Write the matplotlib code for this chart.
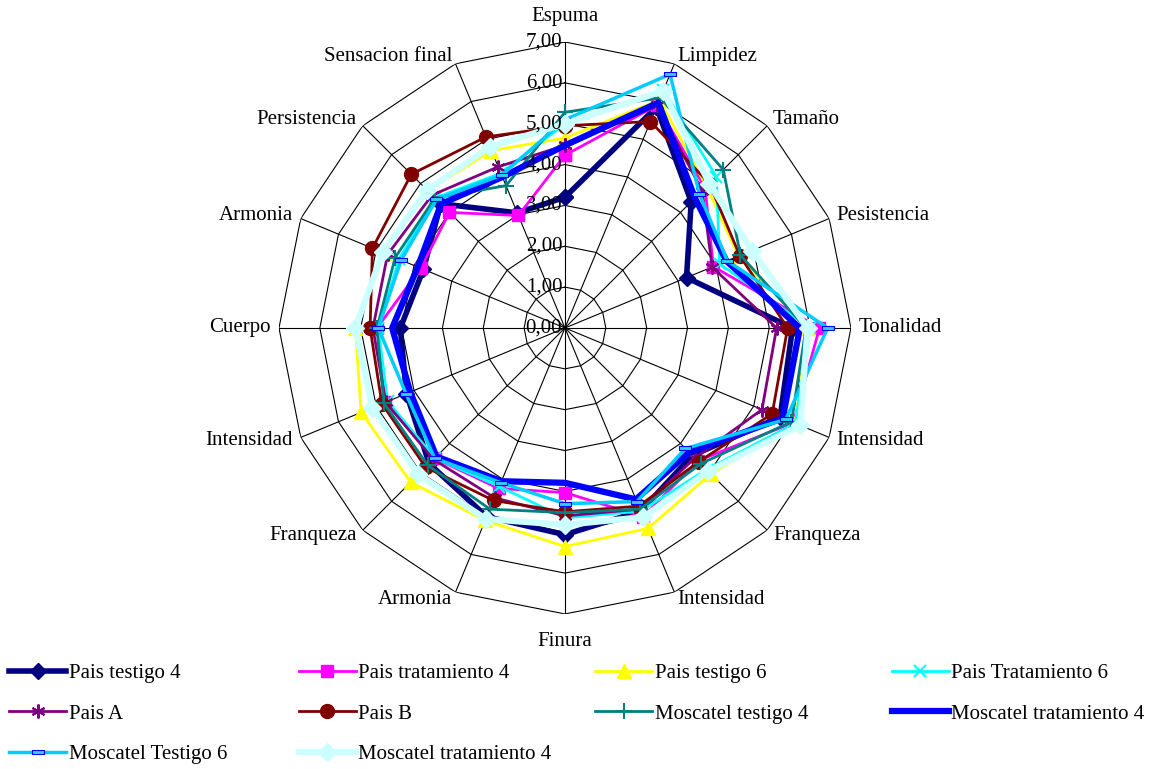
"""
Radar chart of sensory scores for Pais / Moscatel wines (0-7 scale).
Saves out.png
"""
import numpy as np
import matplotlib.pyplot as plt
from matplotlib.path import Path

plt.rcParams['font.family'] = ['Liberation Serif', 'DejaVu Serif']

categories = ["Espuma", "Limpidez", "Tamaño", "Pesistencia", "Tonalidad", "Intensidad",
              "Franqueza", "Intensidad", "Finura", "Armonia", "Franqueza", "Intensidad",
              "Cuerpo", "Armonia", "Persistencia", "Sensacion final"]
ticks = [0, 1, 2, 3, 4, 5, 6, 7]
tick_labels = ["0,00", "1,00", "2,00", "3,00", "4,00", "5,00", "6,00", "7,00"]

pais_testigo_4 = [3.2, 5.85, 4.37, 3.22, 5.57, 5.7, 4.41, 4.85, 5.06, 5.0, 4.7, 4.2, 4.03, 3.75, 4.3, 3.05]
pais_tratamiento_4 = [4.23, 5.9, 4.85, 3.93, 6.23, 6.05, 4.6, 5.0, 4.03, 4.25, 4.51, 4.76, 4.6, 3.82, 4.0, 2.98]
pais_testigo_6 = [4.65, 6.04, 4.9, 4.6, 5.95, 6.1, 5.05, 5.31, 5.35, 5.1, 5.34, 5.4, 5.13, 4.8, 4.75, 4.7]
pais_tratamiento_6 = [5.0, 6.3, 5.24, 4.1, 6.0, 6.1, 4.9, 4.85, 4.65, 4.2, 4.5, 4.7, 4.57, 4.4, 4.5, 4.1]
pais_a = [4.47, 5.9, 4.75, 3.9, 5.18, 5.22, 4.5, 4.8, 4.6, 4.5, 4.55, 4.75, 4.7, 4.7, 4.6, 4.27]
pais_b = [4.95, 5.47, 5.0, 4.63, 5.45, 5.49, 4.63, 4.72, 4.5, 4.57, 4.82, 4.85, 4.77, 5.1, 5.32, 5.06]
moscatel_testigo_4 = [5.28, 6.1, 5.48, 4.65, 5.9, 6.0, 4.7, 4.8, 4.52, 4.8, 4.75, 4.8, 4.6, 4.5, 4.5, 3.77]
moscatel_tratamiento_4 = [4.47, 5.97, 4.5, 4.28, 5.75, 5.77, 4.3, 4.54, 3.79, 4.06, 4.45, 4.1, 4.23, 3.9, 4.29, 4.0]
moscatel_testigo_6 = [5.1, 6.72, 4.65, 4.3, 6.43, 5.85, 4.17, 4.6, 4.3, 4.1, 4.51, 4.21, 4.57, 4.34, 4.45, 4.05]
moscatel_tratamiento_4b = [5.0, 6.28, 5.0, 4.95, 5.94, 6.23, 4.96, 5.01, 4.82, 5.06, 5.07, 5.1, 5.13, 4.83, 4.77, 4.8]

# flat dash-like box marker used by Excel for "Moscatel Testigo 6"
dash_box = Path([(-1, -0.4), (1, -0.4), (1, 0.4), (-1, 0.4), (-1, -0.4)],
                [Path.MOVETO, Path.LINETO, Path.LINETO, Path.LINETO, Path.CLOSEPOLY])

series = [
    ("Pais testigo 4", pais_testigo_4, dict(color='#000080', lw=4, marker='D', ms=8)),
    ("Pais tratamiento 4", pais_tratamiento_4, dict(color='#FF00FF', lw=2, marker='s', ms=9)),
    ("Pais testigo 6", pais_testigo_6, dict(color='#FFFF00', lw=2, marker='^', ms=10)),
    ("Pais Tratamiento 6", pais_tratamiento_6, dict(color='#00FFFF', lw=2, marker='x', ms=8, mew=1.5)),
    ("Pais A", pais_a, dict(color='#800080', lw=2, marker=(6, 2, 0), ms=10, mew=1.5)),
    ("Pais B", pais_b, dict(color='#800000', lw=2, marker='o', ms=10)),
    ("Moscatel testigo 4", moscatel_testigo_4, dict(color='#008080', lw=2, marker='+', ms=11, mew=1.5)),
    ("Moscatel tratamiento 4", moscatel_tratamiento_4, dict(color='#0000FF', lw=4.5)),
    ("Moscatel Testigo 6", moscatel_testigo_6, dict(color='#00CCFF', lw=2.5, marker=dash_box, ms=8,
                                                    mfc='#33CCFF', mec='#0000FF', mew=0.8)),
    ("Moscatel tratamiento 4", moscatel_tratamiento_4b, dict(color='#CCFFFF', lw=4.5, marker='D', ms=9)),
]

n = len(categories)
angles = np.arange(n) * 2 * np.pi / n
closed = np.append(angles, angles[0])
fs = 15

fig = plt.figure(figsize=(11.49, 7.69), dpi=100)
ax = fig.add_axes([0.2428, 0.2016, 0.4978, 0.7438], projection='polar')
ax.set_theta_zero_location('N')
ax.set_theta_direction(-1)
ax.set_ylim(0, 7)
ax.grid(False)
ax.spines['polar'].set_visible(False)
ax.set_xticks([])
ax.set_yticks([])
ax.patch.set_alpha(0)

# polygon grid + spokes
for t in ticks[1:]:
    ax.plot(closed, [t] * (n + 1), color='black', lw=0.8, zorder=1)
for a in angles:
    ax.plot([a, a], [0, 7], color='black', lw=0.8, zorder=1)

lines = []
for i, (name, vals, style) in enumerate(series):
    ln, = ax.plot(closed, vals + vals[:1], label=name, zorder=3 + i, clip_on=False, **style)
    lines.append(ln)

# radial tick labels along the top spoke
for t, lab in zip(ticks, tick_labels):
    ax.annotate(lab, xy=(0, t), xytext=(-2, 0), textcoords='offset points',
                ha='right', va='center', fontsize=fs, zorder=20)

# category labels
for a, lab in zip(angles, categories):
    s = np.sin(a)
    if abs(s) < 0.1:
        ha = 'center'
    elif s > 0:
        ha = 'left'
    else:
        ha = 'right'
    if np.cos(a) > 0.99:
        ax.text(a, 7.4, lab, ha=ha, va='bottom', fontsize=fs)
    elif np.cos(a) < -0.99:
        ax.text(a, 7.45, lab, ha=ha, va='top', fontsize=fs)
    else:
        ax.text(a, 7.2, lab, ha=ha, va='center', fontsize=fs)

# legend: four columns laid out row by row, equally spaced
col_x = [0.008, 0.26, 0.518, 0.776]
for c in range(4):
    idx = list(range(c, len(lines), 4))
    fig.legend([lines[k] for k in idx], [series[k][0] for k in idx],
               loc='upper left', bbox_to_anchor=(col_x[c], 0.137), frameon=False,
               fontsize=fs, handlelength=2.75, handletextpad=0.1, labelspacing=1.0,
               borderaxespad=0, borderpad=0)

fig.savefig('out.png', dpi=100)
